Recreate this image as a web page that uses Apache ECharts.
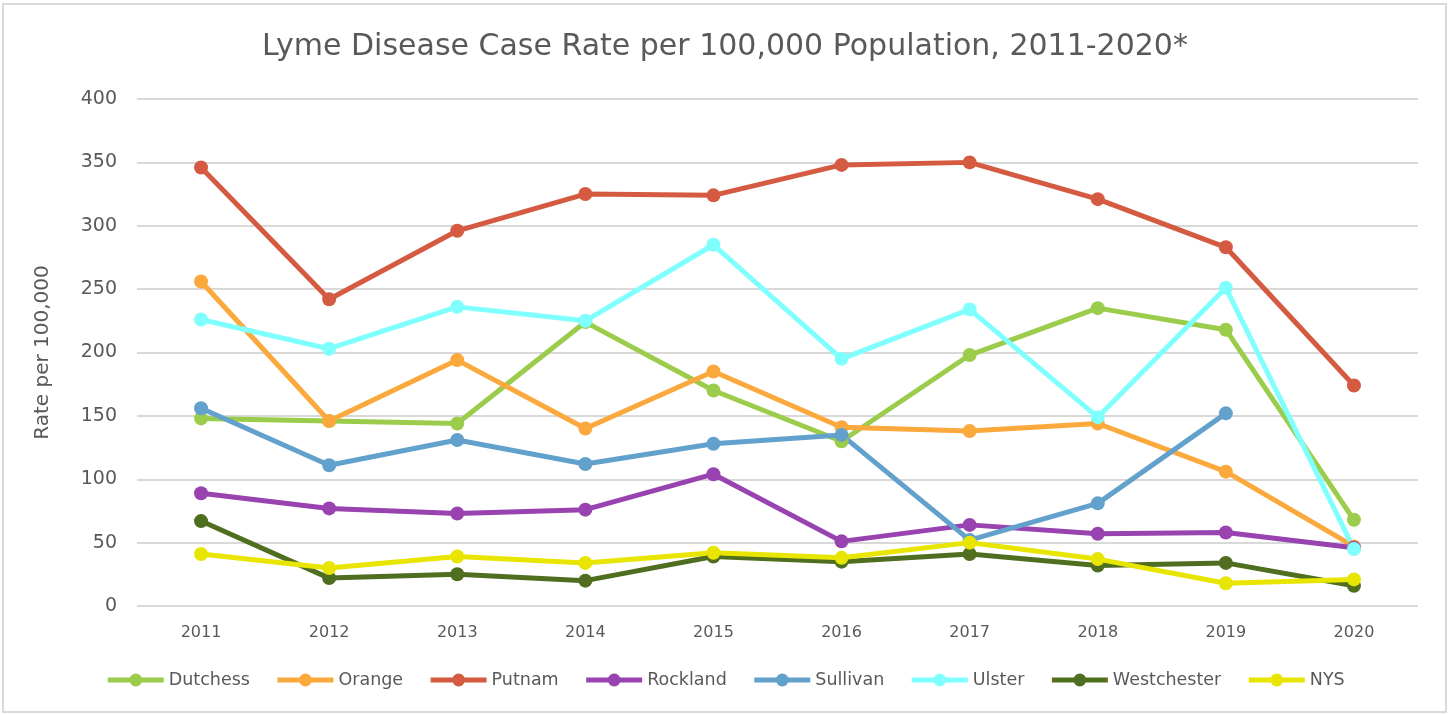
<!DOCTYPE html>
<html>
<head>
<meta charset="utf-8">
<script src="https://cdn.jsdelivr.net/npm/echarts@6/dist/echarts.min.js"></script>
<style>
  html, body { margin: 0; padding: 0; background: #fff; }
  #chart { width: 1450px; height: 715px; }
</style>
</head>
<body>
<div id="chart"></div>
<script>
const years = ['2011', '2012', '2013', '2014', '2015', '2016', '2017', '2018', '2019', '2020'];

const dutchess    = [148, 146, 144, 224, 170, 130, 198, 235, 218, 68];
const orange      = [256, 146, 194, 140, 185, 141, 138, 144, 106, 47];
const putnam      = [346, 242, 296, 325, 324, 348, 350, 321, 283, 174];
const rockland    = [89, 77, 73, 76, 104, 51, 64, 57, 58, 46];
const sullivan    = [156, 111, 131, 112, 128, 135, 52, 81, 152, null];
const ulster      = [226, 203, 236, 225, 285, 195, 234, 149, 251, 45];
const westchester = [67, 22, 25, 20, 39, 35, 41, 32, 34, 16];
const nys         = [41, 30, 39, 34, 42, 38, 50, 37, 18, 21];

const seriesList = [
  ['Dutchess', dutchess, '#9bcc4b'],
  ['Orange', orange, '#fba93d'],
  ['Putnam', putnam, '#d45b41'],
  ['Rockland', rockland, '#9843b0'],
  ['Sullivan', sullivan, '#63a1cd'],
  ['Ulster', ulster, '#80ffff'],
  ['Westchester', westchester, '#4f6e1f'],
  ['NYS', nys, '#e8e600']
];

const font = 'DejaVu Sans';
const grey = '#595959';

const chart = echarts.init(document.getElementById('chart'));

chart.setOption({
  animation: false,
  graphic: [{
    type: 'rect',
    shape: { x: 3, y: 4, width: 1443, height: 708 },
    style: { fill: 'none', stroke: '#d9d9d9', lineWidth: 2 },
    silent: true
  }],
  title: {
    text: 'Lyme Disease Case Rate per 100,000 Population, 2011-2020*',
    left: 'center',
    top: 27,
    textStyle: { fontFamily: font, fontSize: 30, fontWeight: 'normal', color: grey }
  },
  legend: {
    bottom: 21,
    left: 'center',
    itemWidth: 56,
    itemHeight: 16,
    itemGap: 25,
    lineStyle: { width: 5 },
    textStyle: { fontFamily: font, fontSize: 17.5, color: grey },
    data: seriesList.map(s => s[0])
  },
  grid: { left: 137, right: 32, top: 99, bottom: 109 },
  xAxis: {
    type: 'category',
    data: years,
    boundaryGap: true,
    axisLine: { show: false },
    axisTick: { show: false },
    axisLabel: { fontFamily: font, fontSize: 16, color: grey, margin: 19 }
  },
  yAxis: {
    type: 'value',
    min: 0,
    max: 400,
    interval: 50,
    name: 'Rate per 100,000',
    nameLocation: 'middle',
    nameGap: 84,
    nameTextStyle: { fontFamily: font, fontSize: 20, color: grey },
    axisLine: { show: false },
    axisTick: { show: false },
    axisLabel: { fontFamily: font, fontSize: 19, color: grey, margin: 20 },
    splitLine: { lineStyle: { color: '#d9d9d9', width: 2 } }
  },
  series: seriesList.map(([name, data, color]) => ({
    name: name,
    type: 'line',
    data: data,
    symbol: 'circle',
    symbolSize: 14,
    connectNulls: false,
    lineStyle: { width: 5, color: color },
    itemStyle: { color: color }
  }))
});
</script>
</body>
</html>
